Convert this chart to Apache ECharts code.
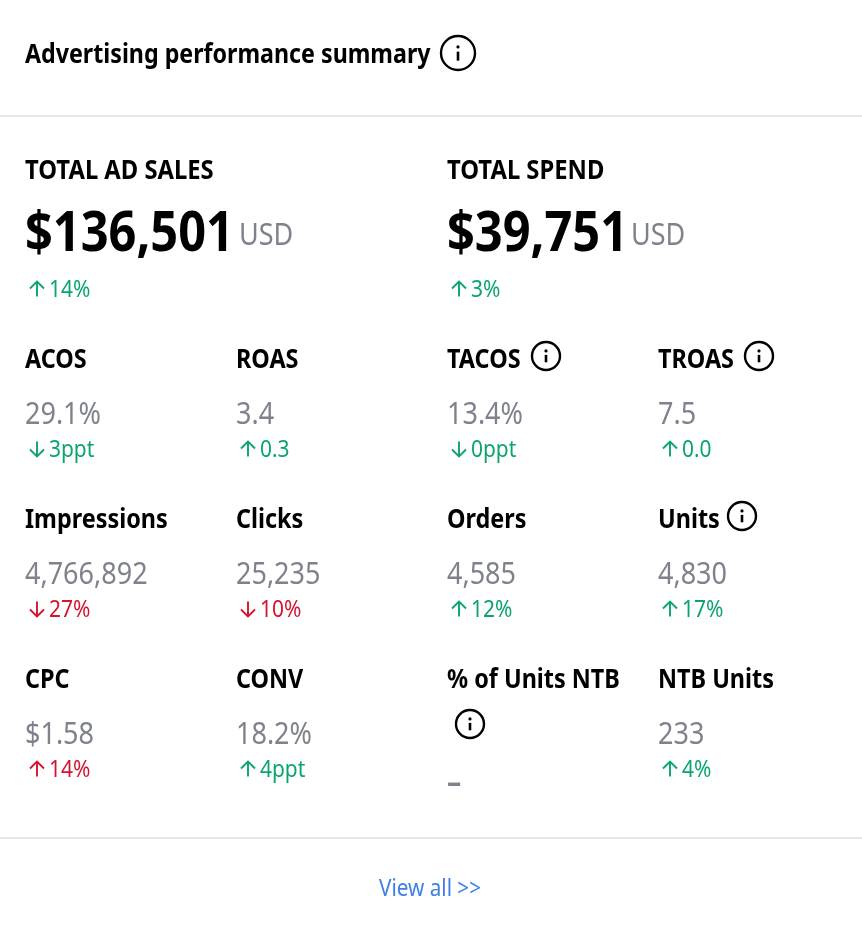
<!DOCTYPE html>
<html>
<head>
<meta charset="utf-8">
<style>
html, body { margin: 0; padding: 0; background: #fff; }
#main { width: 862px; height: 929px; }
</style>
<script src="https://cdn.jsdelivr.net/npm/echarts@6/dist/echarts.min.js"></script>
</head>
<body>
<div id="main"></div>
<script>
var chartTitle = "Advertising performance summary";
var footerLink = "View all >>";

// top two totals
var totalNames = ["TOTAL AD SALES", "TOTAL SPEND"];
var totalValues = ["$136,501", "$39,751"];
var totalUnits = ["USD", "USD"];
var totalChanges = ["14%", "3%"];
var totalDirs = ["up", "up"];
var totalGood = [true, true];

// 3 rows of 4 metrics
var metricNames = ["ACOS", "ROAS", "TACOS", "TROAS", "Impressions", "Clicks", "Orders", "Units", "CPC", "CONV", "% of Units NTB", "NTB Units"];
var metricValues = ["29.1%", "3.4", "13.4%", "7.5", "4,766,892", "25,235", "4,585", "4,830", "$1.58", "18.2%", "–", "233"];
var metricChanges = ["3ppt", "0.3", "0ppt", "0.0", "27%", "10%", "12%", "17%", "14%", "4ppt", "", "4%"];
var metricDirs = ["down", "up", "down", "up", "down", "down", "up", "up", "up", "up", "", "up"];
var metricGood = [true, true, true, true, false, false, true, true, false, true, true, true];
var metricInfo = [false, false, true, true, false, false, false, true, false, false, true, false];

var FONT = "'Noto Sans', sans-serif";
var BLACK = "#000000", GREY = "#7f828c", GREEN = "#0aa56a", RED = "#d3132f", BLUE = "#3f7fe8", RULE = "#e3e6ef";
var colX = [25, 236, 447, 658];
var rowY = [359, 519, 679];

var items = [];

function txt(x, y, str, size, color, weight, sx) {
    items.push({
        type: "text", x: x, y: y, scaleX: sx || 1, silent: true,
        style: { text: str, fontFamily: FONT, fontSize: size, fontWeight: weight || "normal", fill: color, textAlign: "left", textVerticalAlign: "middle" }
    });
}

function infoIcon(cx, cy, r) {
    items.push({ type: "circle", silent: true, shape: { cx: cx, cy: cy, r: r }, style: { fill: "none", stroke: BLACK, lineWidth: 2.4 } });
    items.push({ type: "circle", silent: true, shape: { cx: cx, cy: cy - r * 0.36, r: 1.6 }, style: { fill: BLACK } });
    items.push({ type: "line", silent: true, shape: { x1: cx, y1: cy - r * 0.08, x2: cx, y2: cy + r * 0.45 }, style: { stroke: BLACK, lineWidth: 2.6 } });
}

function arrow(x, y, dir, color) {
    var s = dir == "up" ? -1 : 1;
    var tip = y + s * 7.5, tail = y - s * 7.5;
    items.push({ type: "line", silent: true, shape: { x1: x, y1: tail, x2: x, y2: tip }, style: { stroke: color, lineWidth: 1.9 } });
    items.push({ type: "polyline", silent: true, shape: { points: [[x - 7, tip - s * 7], [x, tip], [x + 7, tip - s * 7]] }, style: { stroke: color, lineWidth: 1.9, fill: "none" } });
}

function change(x, y, str, dir, good) {
    if (!str) return;
    var color = good ? GREEN : RED;
    arrow(x + 12, y, dir, color);
    txt(x + 24, y + 1.5, str, 23, color, "normal", 0.91);
}

// header
txt(25, 55, chartTitle, 27, BLACK, "bold", 0.86);
infoIcon(458, 53, 17);
items.push({ type: "rect", silent: true, shape: { x: 0, y: 115, width: 862, height: 2 }, style: { fill: RULE } });

// totals
var totalX = [25, 447];
var unitX = [239, 631];
for (var i = 0; i < totalNames.length; i++) {
    txt(totalX[i], 172, totalNames[i], 26, BLACK, "bold", 0.915);
    txt(totalX[i], 235, totalValues[i], 56, BLACK, "bold", 0.87);
    txt(unitX[i], 236, totalUnits[i], 30, GREY, "normal", 0.9);
    change(totalX[i], 289, totalChanges[i], totalDirs[i], totalGood[i]);
}

// metric grid
for (var m = 0; m < metricNames.length; m++) {
    var c = m % 4, r = Math.floor(m / 4);
    var x = colX[c], y = rowY[r];
    txt(x, y + 2, metricNames[m], 26, BLACK, "bold", 0.9);
    if (metricNames[m] == "% of Units NTB") {
        // label wraps, icon drops to its own line
        infoIcon(470, y + 45, 14);
        txt(x, y + 105, metricValues[m], 30, GREY, "bold", 0.95);
        continue;
    }
    if (metricInfo[m]) {
        infoIcon(metricNames[m] == "Units" ? 742 : (metricNames[m] == "TROAS" ? 759 : 546), y - 3, 14);
    }
    txt(x, y + 56, metricValues[m], 30, GREY, "normal", 0.9);
    change(x, y + 90, metricChanges[m], metricDirs[m], metricGood[m]);
}

// footer
items.push({ type: "rect", silent: true, shape: { x: 0, y: 837, width: 862, height: 2 }, style: { fill: RULE } });
txt(379, 889, footerLink, 23, BLUE, "normal", 0.9);

var chart = echarts.init(document.getElementById("main"));
chart.setOption({
    backgroundColor: "#ffffff",
    animation: false,
    graphic: { elements: items }
});
</script>
</body>
</html>
